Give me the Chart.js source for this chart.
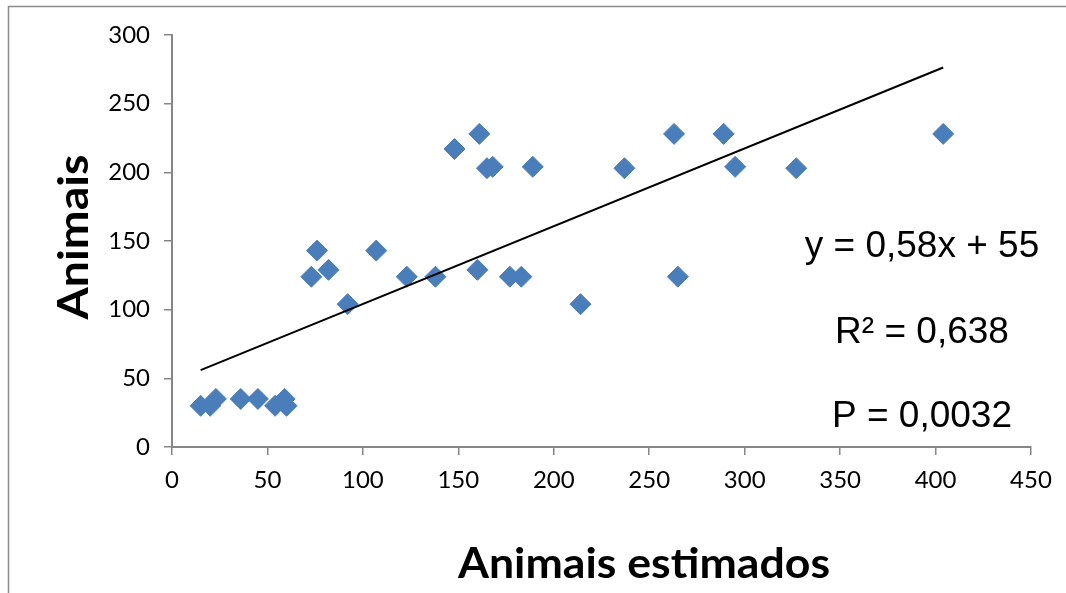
<!DOCTYPE html>
<html>
<head>
<meta charset="utf-8">
<script src="https://cdn.jsdelivr.net/npm/chart.js@4.4.1/dist/chart.umd.min.js"></script>
<style>
  html, body { margin: 0; padding: 0; background: #fff; }
  #wrap { width: 1066px; height: 593px; position: relative; }
</style>
</head>
<body>
<div id="wrap"><canvas id="chart" width="1066" height="593"></canvas></div>
<script>
// values
const animaisEstimados = [15, 20, 23, 36, 45, 54, 59, 60, 73, 76, 82, 92, 107, 123, 138, 148,
  160, 161, 165, 168, 177, 183, 189, 214, 237, 263, 265, 289, 295, 327, 404];
const animais = [30, 30, 35, 35, 35, 30, 35, 30, 124, 143, 129, 104, 143, 124, 124, 217,
  129, 228, 203, 204, 124, 124, 204, 104, 203, 228, 124, 228, 204, 203, 228];
const xTitle = 'Animais estimados';
const yTitle = 'Animais';
const statLines = ['y = 0,58x + 55', 'R\u00B2 = 0,638', 'P = 0,0032'];

const points = animaisEstimados.map((x, i) => ({ x: x, y: animais[i] }));

// least squares trend line over the data range
const n = points.length;
const mx = animaisEstimados.reduce((a, b) => a + b, 0) / n;
const my = animais.reduce((a, b) => a + b, 0) / n;
let sxy = 0, sxx = 0;
points.forEach(p => { sxy += (p.x - mx) * (p.y - my); sxx += (p.x - mx) * (p.x - mx); });
const slope = sxy / sxx;
const intercept = my - slope * mx;
const xMin = Math.min(...animaisEstimados);
const xMax = Math.max(...animaisEstimados);
const trend = [
  { x: xMin, y: intercept + slope * xMin },
  { x: xMax, y: intercept + slope * xMax }
];

const AXIS_GREY = '#868686';

function fitText(ctx, text, width) {
  const w = ctx.measureText(text).width;
  return width / w;
}

const overlay = {
  id: 'overlay',
  beforeDraw(chart) {
    const ctx = chart.ctx;
    ctx.save();
    ctx.strokeStyle = '#8c8c8c';
    ctx.lineWidth = 1.5;
    ctx.beginPath();
    ctx.moveTo(8.5, chart.height);
    ctx.lineTo(8.5, 6.5);
    ctx.lineTo(chart.width, 6.5);
    ctx.stroke();
    ctx.restore();
  },
  afterDraw(chart) {
    const ctx = chart.ctx;
    ctx.save();
    ctx.fillStyle = '#000';

    // x axis title
    ctx.font = 'bold 42px Lato';
    ctx.textAlign = 'center';
    ctx.textBaseline = 'alphabetic';
    let s = fitText(ctx, xTitle, 372);
    ctx.save();
    ctx.translate(644, 578);
    ctx.scale(s, 1);
    ctx.fillText(xTitle, 0, 0);
    ctx.restore();

    // y axis title
    s = fitText(ctx, yTitle, 165);
    ctx.save();
    ctx.translate(88, 237);
    ctx.rotate(-Math.PI / 2);
    ctx.scale(s, 1);
    ctx.fillText(yTitle, 0, 0);
    ctx.restore();

    // regression labels
    ctx.font = '37px "Liberation Sans"';
    const ys = [257, 343, 427];
    statLines.forEach((t, i) => ctx.fillText(t, 922, ys[i]));
    ctx.restore();
  }
};

new Chart(document.getElementById('chart').getContext('2d'), {
  type: 'scatter',
  data: {
    datasets: [
      {
        type: 'line',
        label: 'Tendência',
        data: trend,
        borderColor: '#000',
        borderWidth: 2,
        pointRadius: 0,
        fill: false,
        order: 0
      },
      {
        label: 'Animais',
        data: points,
        pointStyle: 'rectRot',
        pointRadius: 10.5,
        pointHoverRadius: 10.5,
        backgroundColor: '#4a7ebb',
        borderColor: '#4a7ebb',
        borderWidth: 1,
        order: 1
      }
    ]
  },
  options: {
    responsive: false,
    animation: false,
    events: [],
    layout: { padding: { left: 0, right: 35, top: 35, bottom: 0 } },
    plugins: {
      legend: { display: false },
      tooltip: { enabled: false },
      title: { display: false }
    },
    scales: {
      x: {
        type: 'linear',
        min: 0,
        max: 450,
        afterFit: scale => { scale.height = 146; },
        ticks: { stepSize: 50, color: '#000', padding: 11, font: { family: 'Lato', size: 24 } },
        grid: { drawOnChartArea: false, drawTicks: true, tickLength: 8, color: AXIS_GREY, lineWidth: 1.5 },
        border: { color: AXIS_GREY, width: 2 }
      },
      y: {
        type: 'linear',
        min: 0,
        max: 300,
        afterFit: scale => { scale.width = 172; },
        ticks: { stepSize: 50, color: '#000', padding: 14, font: { family: 'Lato', size: 24 } },
        grid: { drawOnChartArea: false, drawTicks: true, tickLength: 8, color: AXIS_GREY, lineWidth: 1.5 },
        border: { color: AXIS_GREY, width: 2 }
      }
    }
  },
  plugins: [overlay]
});
</script>
</body>
</html>
